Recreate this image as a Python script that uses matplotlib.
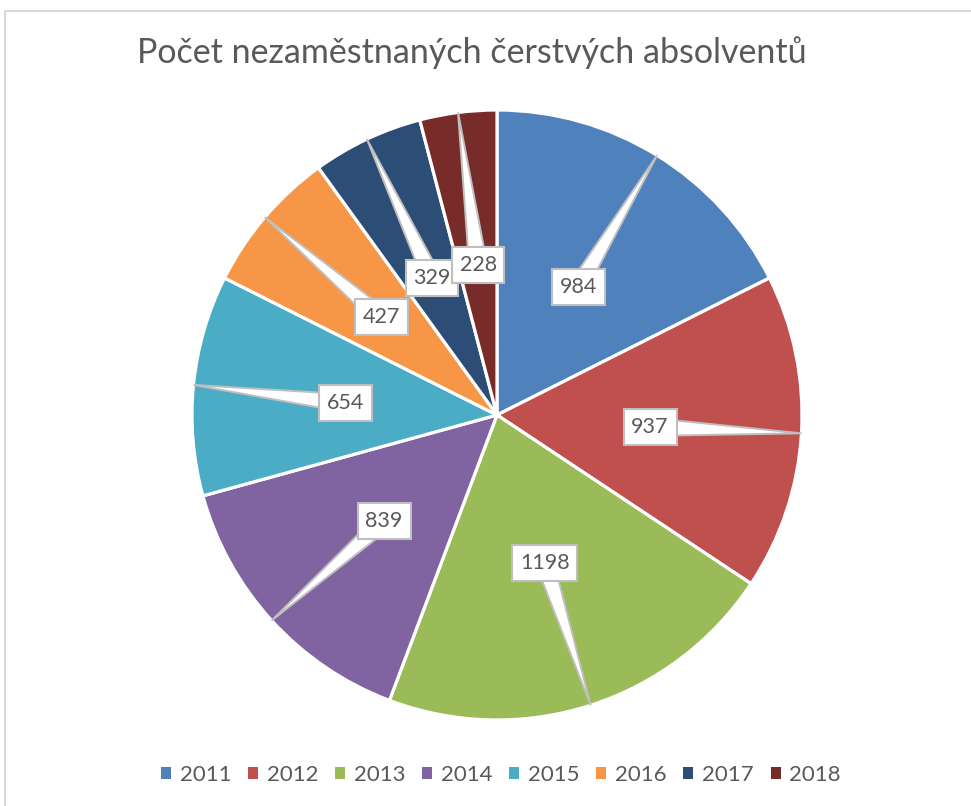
import numpy as np
import matplotlib
matplotlib.use('Agg')
import matplotlib.pyplot as plt
from matplotlib.patches import Polygon, Patch

plt.rcParams['font.family'] = ['Lato', 'DejaVu Sans']

years = ['2011', '2012', '2013', '2014', '2015', '2016', '2017', '2018']
counts = [984, 937, 1198, 839, 654, 427, 329, 228]
colors = ['#4F81BD', '#C0504D', '#9BBB59', '#8064A2',
          '#4BACC6', '#F79646', '#2C4D75', '#772C2A']

# where each callout box sits, in pie radii from the centre (x right, y up)
label_pos = [(0.266, 0.420), (0.502, -0.039), (0.157, -0.485), (-0.370, -0.348),
             (-0.498, 0.039), (-0.380, 0.321), (-0.213, 0.449), (-0.062, 0.492)]

W, H = 971, 806
cx, cy, r = 497, H - 415, 305
text_col = '#595959'
box_col = '#BFBFBF'

fig = plt.figure(figsize=(W / 100, H / 100), dpi=100)
ax = fig.add_axes([0, 0, 1, 1])

wedges, _ = ax.pie(counts, colors=colors, startangle=90, counterclock=False,
                   center=(cx, cy), radius=r,
                   wedgeprops=dict(edgecolor='white', linewidth=2.3))
ax.set_xlim(0, W)
ax.set_ylim(0, H)
ax.set_aspect('equal')
ax.axis('off')

# callouts: pointer triangle to the middle of each slice's rim, then the box
frac = np.cumsum(counts) / np.sum(counts)
mids = (frac - np.array(counts) / np.sum(counts) / 2) * 2 * np.pi
for val, m, (lx, ly) in zip(counts, mids, label_pos):
    tx, ty = cx + r * np.sin(m), cy + r * np.cos(m)
    bx, by = cx + lx * r, cy + ly * r
    d = np.array([tx - bx, ty - by])
    n = np.array([-d[1], d[0]]) / np.hypot(*d) * 9
    tri = Polygon([[bx + n[0], by + n[1]], [tx, ty], [bx - n[0], by - n[1]]],
                  closed=True, fc='white', ec=box_col, lw=1.4, zorder=3)
    ax.add_patch(tri)
    ax.text(bx, by, str(val), ha='center', va='center', fontsize=15.5,
            color=text_col, zorder=4,
            bbox=dict(boxstyle='square,pad=0.36', fc='white', ec=box_col, lw=1.5))

# outer frame (only top and left edges show)
ax.plot([5, 5, W], [0, H - 11, H - 11], color='#D9D9D9', lw=1.5, clip_on=False)

fig.text(472 / W, 1 - 53 / H, 'Počet nezaměstnaných čerstvých absolventů',
         ha='center', va='center', fontsize=24.5, color=text_col)

handles = [Patch(facecolor=c, edgecolor='none') for c in colors]
fig.legend(handles, years, ncol=8, loc='center', bbox_to_anchor=(501 / W, 31 / H),
           frameon=False, fontsize=16, handlelength=0.45, handleheight=0.45,
           handletextpad=0.4, columnspacing=0.75, labelcolor=text_col)

fig.savefig('out.png', dpi=100)
